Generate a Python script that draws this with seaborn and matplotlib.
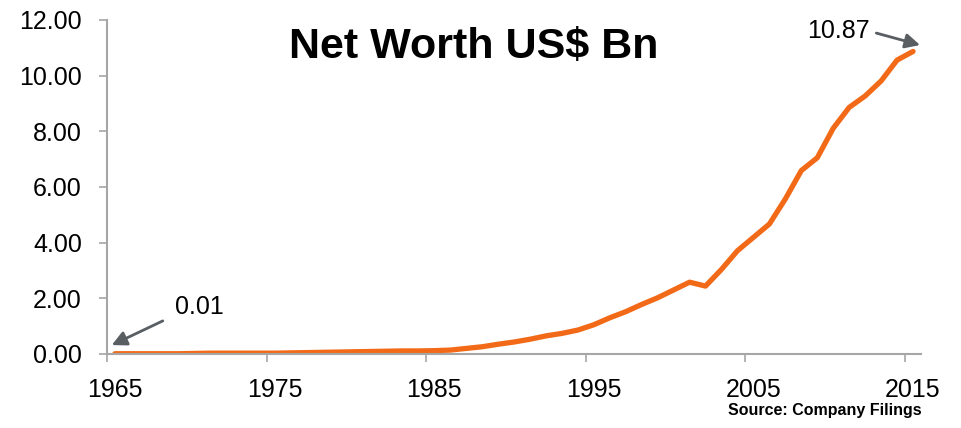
import numpy as np
import pandas as pd
import matplotlib
matplotlib.use("Agg")
import matplotlib.pyplot as plt
import seaborn as sns

# Donnees (US$ Bn)
years = list(range(1965, 2016))
net_worth = [
    0.01, 0.01, 0.01, 0.01, 0.01, 0.02, 0.03, 0.03, 0.03, 0.03,  # 1965-1974
    0.03, 0.04, 0.05, 0.06, 0.07, 0.08, 0.09, 0.10, 0.11, 0.11,  # 1975-1984
    0.12, 0.14, 0.20, 0.26, 0.35, 0.43, 0.53, 0.65, 0.74, 0.86,  # 1985-1994
    1.05, 1.30, 1.52, 1.78, 2.02, 2.30, 2.58, 2.44, 3.04, 3.71,  # 1995-2004
    4.19, 4.67, 5.57, 6.59, 7.05, 8.11, 8.86, 9.27, 9.81, 10.56,  # 2005-2014
    10.87,  # 2015
]
y_ticks = [0, 2, 4, 6, 8, 10, 12]
x_labels = [1965, 1975, 1985, 1995, 2005, 2015]

sns.set_style("white")
plt.rcParams["font.family"] = ["Liberation Sans", "DejaVu Sans"]
plt.rcParams["text.color"] = "black"
plt.rcParams["xtick.labelcolor"] = "black"
plt.rcParams["ytick.labelcolor"] = "black"

ORANGE = "#F26A17"
GREY = "#A6A6A6"
ARROW = "#595E63"

df = pd.DataFrame({"year": np.array(years) + 0.5, "value": net_worth})

fig = plt.figure(figsize=(9.61, 4.28), dpi=100)
ax = fig.add_axes([0.1113, 0.1729, 0.8471, 0.7804])

sns.lineplot(data=df, x="year", y="value", ax=ax, color=ORANGE, linewidth=3.8,
             solid_capstyle="round")

ax.set_xlim(1965, 2016)
ax.set_ylim(0, 12)
ax.set_yticks(y_ticks)
ax.set_yticklabels([f"{v:.2f}" for v in y_ticks], fontsize=18)

# ticks aux frontieres, etiquettes au centre des categories
ax.set_xticks(x_labels)
ax.set_xticklabels([])
ax.set_xticks([v + 0.5 for v in x_labels], minor=True)
ax.set_xticklabels([str(v) for v in x_labels], minor=True, fontsize=18)
ax.tick_params(axis="x", which="major", length=6, width=1.2, color=GREY,
               direction="out", bottom=True)
ax.tick_params(axis="x", which="minor", length=0, pad=17)
ax.tick_params(axis="y", length=6, width=1.2, color=GREY, direction="out",
               left=True, pad=12)
ax.set_xlabel("")
ax.set_ylabel("")

for side in ["top", "right"]:
    ax.spines[side].set_visible(False)
for side in ["left", "bottom"]:
    ax.spines[side].set_color(GREY)
    ax.spines[side].set_linewidth(1.5)

# annotations : fleches et textes separes
arrow_kw = dict(arrowstyle="-|>", color=ARROW, lw=2, mutation_scale=22,
                shrinkA=0, shrinkB=0)
ax.annotate("", xy=(1965.3, 0.32), xytext=(1968.5, 1.19),
            annotation_clip=False, arrowprops=arrow_kw)
ax.text(1969.25, 1.25, "0.01", fontsize=18, ha="left", va="bottom")
ax.annotate("", xy=(2015.94, 11.10), xytext=(2013.2, 11.53),
            annotation_clip=False, arrowprops=arrow_kw)
ax.text(2012.8, 11.62, "10.87", fontsize=18, ha="right", va="center")

fig.text(474 / 961, 0.8645, "Net Worth US$ Bn", fontsize=31, fontweight="bold",
         ha="center", va="baseline")
fig.text(922 / 961, 0.030, "Source: Company Filings", fontsize=11.5,
         fontweight="bold", ha="right", va="baseline")

fig.savefig("out.png", dpi=100)
